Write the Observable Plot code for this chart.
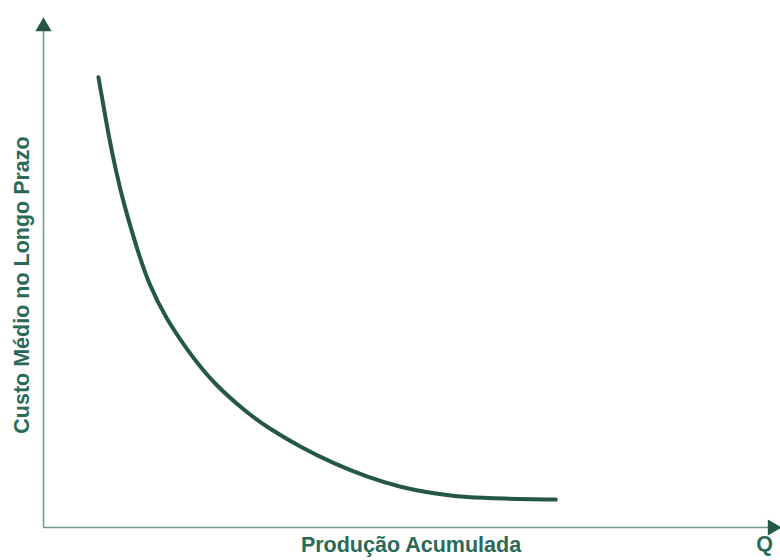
<!DOCTYPE html>
<html>
<head>
<meta charset="utf-8">
<script src="https://cdn.jsdelivr.net/npm/d3@7"></script>
<script src="https://cdn.jsdelivr.net/npm/@observablehq/plot@0.6"></script>
<style>
  html, body { margin: 0; padding: 0; background: #fff; }
  #chart { width: 780px; height: 560px; }
</style>
</head>
<body>
<div id="chart"></div>
<script>
// Curve (Q = produção acumulada, C = custo médio), arbitrary units 0–100
const Q = [7.48, 8.9, 9.85, 10.9, 12.8, 14.3, 16.6, 19.6, 23.1, 27.8, 30.5, 35.0, 39.5, 44.1, 48.6, 53.1, 57.7, 62.2, 69.7];
const C = [88.8, 76.9, 70.4, 63.9, 54.6, 48.1, 41.4, 34.9, 28.4, 22.5, 19.7, 15.8, 12.6, 9.9, 7.9, 6.7, 5.9, 5.7, 5.5];
const xLabel = "Produção Acumulada";
const yLabel = "Custo Médio no Longo Prazo";
const qLabel = "Q";

const curve = Q.map((q, i) => ({q, c: C[i]}));
const green = "#24574a";
const textColor = "#2b6957";
const axisColor = "#6d9c8c";
const font = "Liberation Sans, Arial, sans-serif";

const chart = Plot.plot({
  width: 780,
  height: 560,
  marginLeft: 43,
  marginRight: 2,
  marginTop: 20,
  marginBottom: 33,
  style: {background: "#fff", fontFamily: font},
  x: {domain: [0, 100], axis: null},
  y: {domain: [0, 100], axis: null},
  marks: [
    Plot.ruleX([0], {stroke: axisColor, strokeWidth: 1.5}),
    Plot.ruleY([0], {stroke: axisColor, strokeWidth: 1.5}),
    Plot.dot([{x: 0, y: 100}], {x: "x", y: "y", symbol: "triangle", r: 6, fill: green, stroke: "none", dy: 6}),
    Plot.dot([{x: 100, y: 0}], {x: "x", y: "y", symbol: "triangle", r: 6, fill: green, stroke: "none", rotate: 90, dx: -6}),
    Plot.line(curve, {x: "q", y: "c", curve: "basis", stroke: green, strokeWidth: 4}),
    Plot.text([xLabel], {text: d => d, frameAnchor: "bottom", textAnchor: "middle", dx: 0, dy: 24, fontSize: 21.5, fontWeight: "bold", fill: textColor}),
    Plot.text([qLabel], {text: d => d, frameAnchor: "bottom-right", dx: -14, dy: 23, textAnchor: "middle", fontSize: 21.5, fontWeight: "bold", fill: textColor}),
    Plot.text([yLabel], {text: d => d, frameAnchor: "left", textAnchor: "middle", dx: -21, dy: 11, rotate: -90, fontSize: 21.5, fontWeight: "bold", fill: textColor})
  ]
});
document.getElementById("chart").append(chart);
</script>
</body>
</html>
